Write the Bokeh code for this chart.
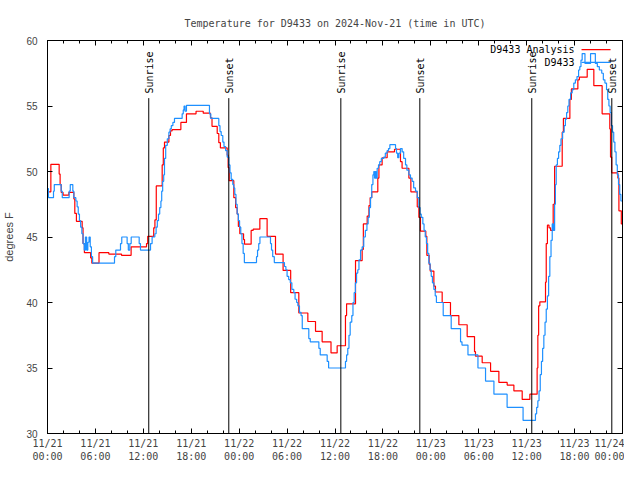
import math
from bokeh.plotting import figure
from bokeh.models import Range1d, FixedTicker, LinearAxis, ColumnDataSource
from bokeh.core.properties import value
from bokeh.embed import file_html
from bokeh.resources import INLINE

MONO = "DejaVu Sans Mono"
SANS = "Liberation Sans"

title_text = "Temperature for D9433 on 2024-Nov-21 (time in UTC)"
y_label = "degrees F"
series_names = ["D9433 Analysis", "D9433"]
series_colors = ["#ff0000", "#1e90ff"]

# hours since 2024-11-21 00:00 UTC (step changes), temperatures in degrees F
analysis_hours = [
    0.00, 0.42, 1.46, 1.58, 1.72, 1.95, 2.67, 3.30, 3.42, 3.62, 4.34, 4.45, 4.62, 5.40, 5.55,
    6.45, 7.68, 9.27, 10.47, 12.40, 12.55, 13.30, 13.45, 13.62, 14.36, 14.50, 14.65, 15.20,
    15.40, 15.60, 16.70, 17.40, 18.60, 19.50, 20.40, 20.60, 21.25, 21.45, 21.65, 22.50, 22.62,
    22.75, 23.33, 23.55, 23.75, 23.90, 24.08, 24.55, 24.67, 25.50, 25.75, 26.59, 27.50, 28.55,
    29.50, 30.45, 31.47, 32.60, 33.56, 34.39, 35.50, 36.27, 37.31, 37.45, 38.57, 39.40, 39.55,
    40.03, 40.25, 40.40, 40.60, 41.36, 41.50, 41.90, 42.53, 43.45, 44.20, 44.40, 45.25, 45.50,
    46.30, 46.50, 46.70, 47.37, 47.50, 47.79, 47.92, 48.38, 48.58, 49.42, 50.46, 51.51, 52.55,
    53.47, 53.59, 54.43, 55.48, 56.52, 57.56, 58.40, 59.44, 60.40, 61.31, 61.40, 61.50, 61.65,
    62.36, 62.45, 62.60, 62.80, 63.00, 63.32, 63.50, 64.45, 64.60, 65.41, 65.60, 66.41, 66.60,
    67.58, 68.41, 69.45, 70.41, 70.50, 70.65, 71.42, 71.55, 71.85, 72.00,
]
analysis_temps = [
    48.45, 50.55, 49.8, 49.0, 48.4, 48.2, 48.4, 47.9, 46.8, 46.2, 45.7, 44.5, 43.8, 43.4, 43.0,
    43.8, 43.7, 43.6, 44.25, 44.5, 45.05, 45.7, 46.3, 48.9, 50.5, 51.8, 52.25, 52.75,
    53.1, 53.2, 53.75, 54.4, 54.6, 54.45, 54.1, 53.45, 52.9, 52.2, 51.8, 51.25, 50.3,
    49.3, 48.0, 47.25, 46.75, 45.8, 45.25, 44.8, 44.45, 45.5, 45.6, 46.4, 45.05, 43.7,
    42.45, 40.75, 39.2, 38.55, 37.8, 37.0, 36.15, 36.7, 39.0, 39.9, 43.2, 44.05, 46.0,
    46.6, 47.4, 48.0, 48.45, 49.5, 50.5, 51.05, 51.5, 51.7, 50.75, 50.25, 49.5, 48.45,
    47.3, 46.5, 45.45, 45.05, 43.6, 42.9, 42.4, 41.25, 40.8, 40.0, 39.0, 38.3, 37.4,
    36.25, 35.9, 35.4, 34.75, 33.9, 33.7, 33.25, 32.6, 33.0, 35.0, 37.5, 39.75, 40.05,
    41.55, 44.5, 45.9, 45.7, 45.5, 47.5, 50.4, 53.0, 54.05, 55.5, 56.3, 57.0, 57.2,
    57.8, 56.55, 54.4, 53.25, 51.1, 49.9, 49.5, 47.0, 46.0, 46.0,
]

obs_hours = [
    0.00, 0.12, 0.75, 0.85, 1.71, 1.85, 2.71, 2.85, 3.17, 3.30, 3.55, 3.71, 3.85, 4.00, 4.15,
    4.30, 4.45, 4.60, 4.75, 4.90, 5.05, 5.20, 5.35, 5.50, 5.65, 8.39, 8.55, 9.14, 9.30, 9.97,
    10.12, 10.31, 10.48, 11.48, 11.64, 12.90, 13.10, 13.44, 13.60, 13.75, 13.90, 14.05, 14.20,
    14.30, 14.42, 14.55, 14.65, 14.80, 15.00, 15.20, 15.35, 15.50, 15.70, 15.90, 16.86, 17.00,
    17.10, 17.22, 17.40, 20.28, 20.45, 21.45, 21.60, 21.75, 21.95, 22.10, 22.30, 22.50, 22.70,
    22.85, 23.00, 23.20, 23.33, 23.45, 23.60, 23.75, 23.90, 24.05, 24.20, 24.35, 24.50, 24.65,
    26.17, 26.30, 26.45, 26.60, 27.92, 28.05, 28.20, 28.40, 29.67, 29.85, 30.00, 30.20, 30.40,
    30.60, 30.84, 31.00, 31.20, 31.35, 31.55, 31.75, 31.90, 32.72, 32.90, 33.98, 34.15, 35.02,
    35.20, 37.31, 37.45, 37.60, 37.75, 37.90, 38.10, 38.25, 38.40, 38.55, 38.70, 38.85, 39.00,
    39.20, 39.40, 39.60, 39.80, 40.00, 40.15, 40.30, 40.45, 40.60, 40.75, 40.86, 40.95, 41.05,
    41.15, 41.28, 41.45, 41.60, 41.80, 42.10, 42.30, 42.53, 42.70, 42.87, 43.58, 43.70, 43.85,
    44.00, 44.20, 44.41, 44.60, 44.83, 45.00, 45.25, 45.45, 45.66, 45.85, 46.08, 46.30, 46.50,
    46.65, 46.80, 47.00, 47.15, 47.30, 47.45, 47.60, 47.75, 47.90, 48.05, 48.20, 48.38, 48.55,
    48.70, 49.55, 50.55, 51.72, 51.90, 52.65, 53.90, 54.85, 55.90, 57.55, 59.55, 61.10, 61.25,
    61.40, 61.55, 61.70, 61.85, 62.00, 62.15, 62.30, 62.45, 62.60, 62.75, 62.90, 63.05, 63.20,
    63.35, 63.50, 63.60, 63.70, 63.85, 64.00, 64.15, 64.30, 64.50, 64.70, 64.85, 65.00, 65.15,
    65.30, 65.50, 65.70, 65.90, 66.10, 66.30, 66.50, 66.65, 66.80, 66.95, 67.30, 68.00, 68.60,
    68.85, 69.10, 69.40, 69.60, 69.80, 70.00, 70.15, 70.30, 70.45, 70.60, 70.75, 70.90, 71.05,
    71.20, 71.35, 71.50, 71.65, 71.80, 72.00,
]
obs_temps = [
    48.7, 48.0, 48.5, 49.0, 48.5, 48.0, 48.5, 49.0, 48.5, 48.0, 47.75, 47.3, 46.75, 46.25, 45.75,
    45.25, 44.5, 44.0, 45.0, 44.0, 44.6, 45.0, 44.25, 43.5, 43.0, 43.5, 44.0, 44.5, 45.0, 44.5,
    44.0, 44.5, 45.0, 44.5, 44.0, 44.5, 45.0, 45.25, 45.75, 46.25, 46.75, 47.25, 47.75,
    48.5, 49.25, 49.75, 51.0, 52.0, 52.5, 53.0, 53.25, 53.5, 53.75, 54.05, 54.4, 54.7,
    55.0, 54.6, 55.05, 54.4, 54.05, 53.5, 53.05, 52.75, 52.25, 51.9, 51.6, 51.1, 50.5,
    49.9, 49.4, 49.0, 48.75, 48.25, 47.5, 46.75, 46.25, 45.75, 45.25, 44.5, 43.75, 43.05,
    43.5, 44.0, 44.5, 45.0, 44.5, 44.0, 43.5, 43.05, 42.75, 42.5, 42.0, 41.75, 41.5,
    41.0, 40.75, 40.25, 40.0, 39.75, 39.25, 39.0, 38.0, 37.25, 37.0, 36.5, 36.0, 35.5,
    35.0, 35.5, 36.0, 36.5, 37.5, 38.5, 39.0, 40.0, 40.75, 41.5, 42.25, 42.5, 43.25,
    44.0, 44.25, 45.0, 45.5, 46.0, 46.5, 47.25, 48.0, 49.0, 49.75, 50.0, 49.5, 50.0,
    49.5, 50.25, 50.5, 50.75, 51.0, 51.1, 51.4, 51.6, 51.75, 52.05, 51.75, 51.4, 51.05,
    51.4, 51.75, 51.5, 51.0, 50.5, 50.1, 49.75, 49.5, 49.25, 48.75, 48.5, 48.0, 47.25,
    46.75, 46.5, 46.0, 45.5, 45.0, 44.5, 43.75, 43.0, 42.5, 42.0, 41.5, 41.0, 40.5,
    40.0, 39.0, 38.0, 37.0, 36.75, 36.0, 35.0, 34.0, 33.0, 32.0, 31.0, 31.5, 32.0,
    32.5, 33.25, 34.5, 35.5, 36.5, 37.5, 38.5, 39.5, 40.5, 42.0, 43.5, 44.75, 46.0,
    45.5, 47.5, 49.0, 50.5, 51.0, 51.5, 52.0, 52.5, 53.0, 53.5, 54.0, 54.5, 55.0,
    55.5, 56.0, 56.25, 56.75, 57.0, 57.25, 57.75, 58.0, 58.5, 59.0, 58.25, 59.0, 58.25,
    58.0, 57.75, 57.5, 57.0, 56.75, 56.25, 55.5, 55.0, 54.5, 53.5, 53.0, 52.25, 51.5,
    50.5, 49.75, 49.0, 48.25, 47.75, 47.75,
]

sunrise_hours = [12.68, 36.73, 60.64]
sunset_hours = [22.70, 46.62, 70.66]

x_tick_hours = [0, 6, 12, 18, 24, 30, 36, 42, 48, 54, 60, 66, 72]
x_tick_labels = [
    "11/21\n00:00", "11/21\n06:00", "11/21\n12:00", "11/21\n18:00",
    "11/22\n00:00", "11/22\n06:00", "11/22\n12:00", "11/22\n18:00",
    "11/23\n00:00", "11/23\n06:00", "11/23\n12:00", "11/23\n18:00",
    "11/24\n00:00",
]
x_minor_hours = list(range(0, 73, 2))
y_ticks = [30, 35, 40, 45, 50, 55, 60]

# decoration positions (data units)
sun_line_top = 55.6
sun_label_base = 55.95
legend_text_x = 66.0
legend_line_x0 = 66.87
legend_line_x1 = 70.5
legend_y = [59.3, 58.33]

p = figure(width=624, height=464, output_backend="svg", toolbar_location=None,
           x_range=Range1d(0, 72), y_range=Range1d(30, 60),
           min_border_left=47, min_border_right=2, min_border_top=40, min_border_bottom=29,
           background_fill_color="white", border_fill_color="white")
p.xgrid.grid_line_color = None
p.ygrid.grid_line_color = None
p.outline_line_color = "black"
p.outline_line_width = 1

p.title.text = title_text
p.title.align = "center"
p.title.text_font = MONO
p.title.text_font_size = "10px"
p.title.text_font_style = "normal"
p.title.standoff = 24

xt = FixedTicker(ticks=x_tick_hours, minor_ticks=x_minor_hours)
yt = FixedTicker(ticks=y_ticks, minor_ticks=[])

xa = p.xaxis[0]
xa.ticker = xt
xa.major_label_overrides = {h: lab for h, lab in zip(x_tick_hours, x_tick_labels)}
xa.major_tick_in = 5
xa.major_tick_out = 0
xa.minor_tick_in = 3
xa.minor_tick_out = 0
xa.major_label_text_font = MONO
xa.major_label_text_font_size = "10px"
xa.major_label_standoff = 4
xa.axis_line_color = "black"

ya = p.yaxis[0]
ya.ticker = yt
ya.major_tick_in = 5
ya.major_tick_out = 0
ya.minor_tick_line_color = None
ya.major_label_text_font = SANS
ya.major_label_text_font_size = "10px"
ya.major_label_standoff = 10
ya.axis_label = y_label
ya.axis_label_text_font = SANS
ya.axis_label_text_font_size = "11px"
ya.axis_label_text_font_style = "normal"
ya.axis_label_standoff = 8

top = LinearAxis(ticker=xt, major_tick_in=5, major_tick_out=0, minor_tick_in=3, minor_tick_out=0,
                 major_label_text_font_size="0px", major_label_text_color=None,
                 major_label_standoff=0)
right = LinearAxis(ticker=yt, major_tick_in=5, major_tick_out=0, minor_tick_line_color=None,
                   major_label_text_font_size="0px", major_label_text_color=None,
                   major_label_standoff=0)
p.add_layout(top, "above")
p.add_layout(right, "right")

red_src = ColumnDataSource(dict(h=analysis_hours, t=analysis_temps))
blue_src = ColumnDataSource(dict(h=obs_hours, t=obs_temps))
p.step(x="h", y="t", source=red_src, mode="after", line_color=series_colors[0], line_width=1.2)
p.step(x="h", y="t", source=blue_src, mode="after", line_color=series_colors[1], line_width=1.2)

sun_hours = sunrise_hours + sunset_hours
sun_names = ["Sunrise"] * len(sunrise_hours) + ["Sunset"] * len(sunset_hours)
p.segment(x0=sun_hours, y0=[30] * len(sun_hours), x1=sun_hours, y1=[sun_line_top] * len(sun_hours),
          line_color="black", line_width=1)
p.text(x=sun_hours, y=[sun_label_base] * len(sun_hours), text=sun_names, angle=math.pi / 2,
       text_align="left", text_baseline="middle", x_offset=1,
       text_font=value(MONO), text_font_size="10px", text_color="black")

p.text(x=[legend_text_x] * 2, y=legend_y, text=series_names, text_align="right",
       text_baseline="middle", text_font=value(MONO), text_font_size="10px", text_color="black")
p.segment(x0=[legend_line_x0] * 2, y0=legend_y, x1=[legend_line_x1] * 2, y1=legend_y,
          line_color=series_colors, line_width=1.2)

open("out.html", "w").write(file_html(p, INLINE))
